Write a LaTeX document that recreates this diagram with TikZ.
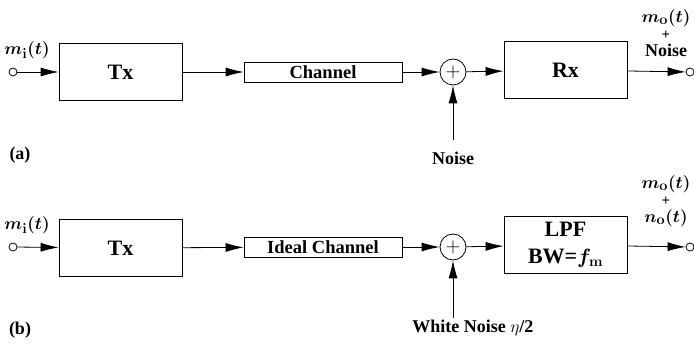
\documentclass[tikz,border=0pt]{standalone}
\usepackage{amsmath}
\usepackage{fontspec}
\setmainfont{Liberation Serif}
\usetikzlibrary{arrows.meta}

\begin{document}
\begin{tikzpicture}[x=1pt, y=-1pt, line width=0.8pt,
  blk/.style={draw, minimum width=123pt, minimum height=57pt, inner sep=0pt,
    font=\bfseries\fontsize{22}{27}\selectfont, align=center},
  chan/.style={draw, minimum width=158pt, minimum height=20pt, inner sep=0pt,
    font=\bfseries\fontsize{18.5}{18}\selectfont},
  sumnode/.style={circle, draw, minimum size=26pt, inner sep=0pt},
  termnode/.style={circle, draw, minimum size=8pt, inner sep=0pt},
  sig/.style={-{Latex[length=18pt,width=9pt]}},
  lbl/.style={font=\bfseries\fontsize{18}{16}\selectfont, align=center, inner sep=0pt},
  mlbl/.style={lbl, font=\bfseries\fontsize{19}{16}\selectfont}]
\useasboundingbox (0,0) rectangle (694,347);

% (a)
\node[termnode] (ina) at (13,72) {};
\node[mlbl] (mia) at (27,50) {{\boldmath$m_{\mathbf{i}}(t)$}};
\node[blk] (txa) at (120.5,72) {Tx};
\node[chan] (cha) at (323,72) {Channel};
\node[sumnode] (suma) at (453,72) {\fontsize{22}{22}\selectfont$+$};
\node[blk] (rxa) at (565.5,70) {Rx};
\node[termnode] (outa) at (690,72) {};
\coordinate (nza) at (453,140);
\node[lbl] (noisea) at (453,158) {Noise};
\node[mlbl] (outlbla) at (666,33) {{\boldmath$m_{\mathbf{o}}(t)$}\\[1pt]{\fontsize{15}{15}\selectfont+}\\[1pt]{\fontsize{18}{16}\selectfont Noise}};
\node[lbl] (taga) at (20,155) {(a)};

% (b)
\node[termnode] (inb) at (13,247) {};
\node[mlbl] (mib) at (27,225) {{\boldmath$m_{\mathbf{i}}(t)$}};
\node[blk] (txb) at (120.5,248) {Tx};
\node[chan] (chb) at (323,247) {Ideal Channel};
\node[sumnode] (sumb) at (453,247) {\fontsize{22}{22}\selectfont$+$};
\node[blk] (rxb) at (565.5,245) {LPF\\BW={\boldmath$f_{\mathbf{m}}$}};
\node[termnode] (outb) at (690,247) {};
\coordinate (nzb) at (453,318);
\node[lbl, anchor=west] (noiseb) at (412,328) {White Noise $\eta$/2};
\node[mlbl] (outlblb) at (666,201) {{\boldmath$m_{\mathbf{o}}(t)$}\\[1pt]{\fontsize{15}{15}\selectfont+}\\[1pt]{\boldmath$n_{\mathbf{o}}(t)$}};
\node[lbl] (tagb) at (20,330) {(b)};

\foreach \row in {a,b}
  \foreach \p/\q in {in/tx, tx/ch, ch/sum, sum/rx, rx/out, nz/sum}
    \draw[sig] (\p\row) -- (\q\row);

\end{tikzpicture}
\end{document}
